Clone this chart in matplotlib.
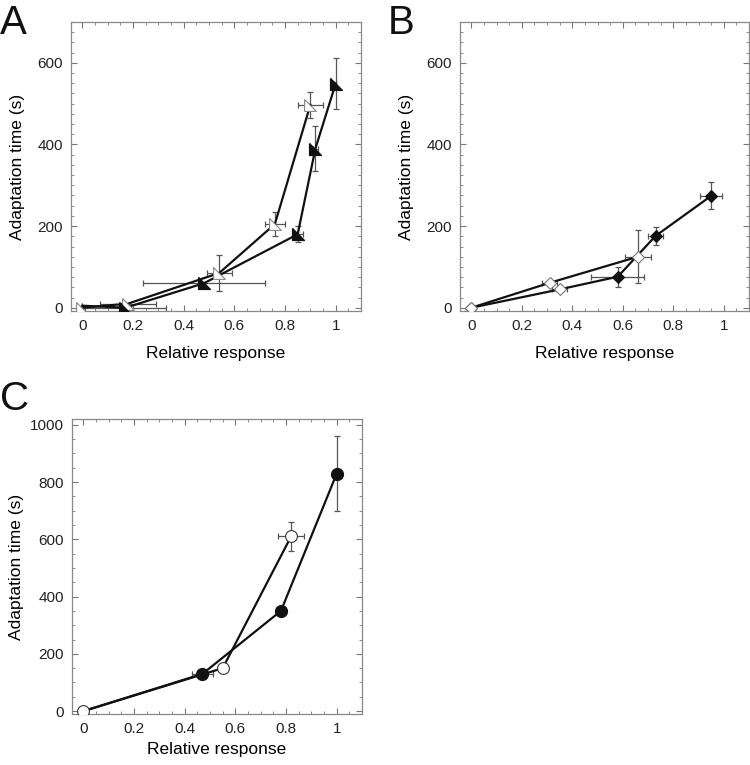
import numpy as np
import matplotlib
matplotlib.use("Agg")
import matplotlib.pyplot as plt
from matplotlib.ticker import MultipleLocator

plt.rcParams["font.family"] = ["Liberation Sans", "DejaVu Sans"]

# Panel A: open / filled triangles
a_open_x = [0.0, 0.18, 0.54, 0.76, 0.90]
a_open_y = [0, 10, 85, 205, 497]
a_open_xerr = [0.0, 0.11, 0.05, 0.04, 0.05]
a_open_yerr = [0, 0, 45, 30, 32]

a_fill_x = [0.0, 0.17, 0.48, 0.85, 0.92, 1.0]
a_fill_y = [5, 0, 60, 180, 390, 549]
a_fill_xerr = [0.0, 0.16, 0.24, 0.02, 0.01, 0.0]
a_fill_yerr = [0, 0, 0, 20, 55, 62]

# Panel B: diamonds (line 1 and line 2, marker fill per point)
b1_x = [0.0, 0.31, 0.66]
b1_y = [0, 61, 125]
b1_xerr = [0.0, 0.03, 0.05]
b1_yerr = [0, 8, 65]
b1_filled = [False, False, False]

b2_x = [0.0, 0.35, 0.58, 0.73, 0.95]
b2_y = [0, 45, 76, 176, 274]
b2_xerr = [0.0, 0.03, 0.105, 0.03, 0.045]
b2_yerr = [0, 5, 25, 22, 33]
b2_filled = [False, False, True, True, True]

# Panel C: circles
c_open_x = [0.0, 0.55, 0.82]
c_open_y = [0, 150, 610]
c_open_xerr = [0.0, 0.0, 0.05]
c_open_yerr = [0, 0, 52]

c_fill_x = [0.0, 0.47, 0.78, 1.0]
c_fill_y = [0, 130, 350, 829]
c_fill_xerr = [0.0, 0.04, 0.0, 0.0]
c_fill_yerr = [0, 0, 0, 130]

tri = [(-1, 1), (-1, -1), (1, -1), (-1, 1)]

fig = plt.figure(figsize=(7.5, 7.65), dpi=100)
W, H = 750, 765


def add_ax(l, r, t, b):
    return fig.add_axes([l / W, 1 - b / H, (r - l) / W, (b - t) / H])


def style(ax, ylim, ymaj, ymin, xpad=8, ypad=9):
    ax.set_xlim(-0.045, 1.1)
    ax.set_ylim(*ylim)
    ax.xaxis.set_major_locator(MultipleLocator(0.2))
    ax.xaxis.set_minor_locator(MultipleLocator(0.05))
    ax.yaxis.set_major_locator(MultipleLocator(ymaj))
    ax.yaxis.set_minor_locator(MultipleLocator(ymin))
    ax.set_xticks([0, 0.2, 0.4, 0.6, 0.8, 1.0])
    ax.set_xticklabels(["0", "0.2", "0.4", "0.6", "0.8", "1"])
    ax.tick_params(which="both", direction="in", top=True, right=True,
                   color="#777777", labelsize=11, labelcolor="#222222")
    ax.tick_params(which="major", length=4, pad=6)
    ax.tick_params(which="minor", length=2.5)
    for s in ax.spines.values():
        s.set_color("#888888")
        s.set_linewidth(0.9)
    ax.set_xlabel("Relative response", fontsize=12.5, labelpad=xpad)
    ax.set_ylabel("Adaptation time (s)", fontsize=12.5, labelpad=ypad)


def errs(ax, x, y, xe, ye):
    ax.errorbar(x, y, xerr=xe, yerr=ye, fmt="none", ecolor="#555555",
                elinewidth=0.9, capsize=2, capthick=0.9, zorder=2)


# A
axA = add_ax(71, 361, 22, 311)
style(axA, (-8, 700), 200, 25, xpad=9)
errs(axA, a_open_x, a_open_y, a_open_xerr, a_open_yerr)
errs(axA, a_fill_x, a_fill_y, a_fill_xerr, a_fill_yerr)
axA.plot(a_open_x, a_open_y, color="#111111", lw=1.6, zorder=3)
axA.plot(a_fill_x, a_fill_y, color="#111111", lw=1.6, zorder=3)
axA.plot(a_open_x, a_open_y, ls="none", marker=tri, ms=8.5, mfc="white",
         mec="#888888", mew=0.8, zorder=4)
axA.plot(a_fill_x[1:], a_fill_y[1:], ls="none", marker=tri, ms=8.5, mfc="#111111",
         mec="#111111", zorder=4)

# B
axB = add_ax(460, 749, 22, 311)
style(axB, (-8, 700), 200, 25, xpad=9)
for x, y, xe, ye, f in [(b1_x, b1_y, b1_xerr, b1_yerr, b1_filled),
                         (b2_x, b2_y, b2_xerr, b2_yerr, b2_filled)]:
    errs(axB, x, y, xe, ye)
    axB.plot(x, y, color="#111111", lw=1.6, zorder=3)
    for xi, yi, fi in zip(x, y, f):
        axB.plot(xi, yi, ls="none", marker="D", ms=6.5,
                 mfc="#111111" if fi else "white",
                 mec="#111111" if fi else "#777777", mew=0.8, zorder=4)

# C
axC = add_ax(72, 362, 419, 714)
style(axC, (-10, 1020), 200, 50, xpad=4, ypad=4)
errs(axC, c_open_x, c_open_y, c_open_xerr, c_open_yerr)
errs(axC, c_fill_x, c_fill_y, c_fill_xerr, c_fill_yerr)
axC.plot(c_open_x, c_open_y, color="#111111", lw=1.6, zorder=3)
axC.plot(c_fill_x, c_fill_y, color="#111111", lw=1.6, zorder=3)
axC.plot(c_fill_x[1:], c_fill_y[1:], ls="none", marker="o", ms=8.5,
         mfc="#111111", mec="#111111", zorder=4)
axC.plot(c_open_x, c_open_y, ls="none", marker="o", ms=8.5, mfc="white",
         mec="#333333", mew=0.8, zorder=4)

fig.text(0 / W, 1 - 34 / H, "A", fontsize=29, color="#111111")
fig.text(388 / W, 1 - 34 / H, "B", fontsize=29, color="#111111")
fig.text(0 / W, 1 - 410 / H, "C", fontsize=29, color="#111111")

fig.savefig("out.png", dpi=100)
